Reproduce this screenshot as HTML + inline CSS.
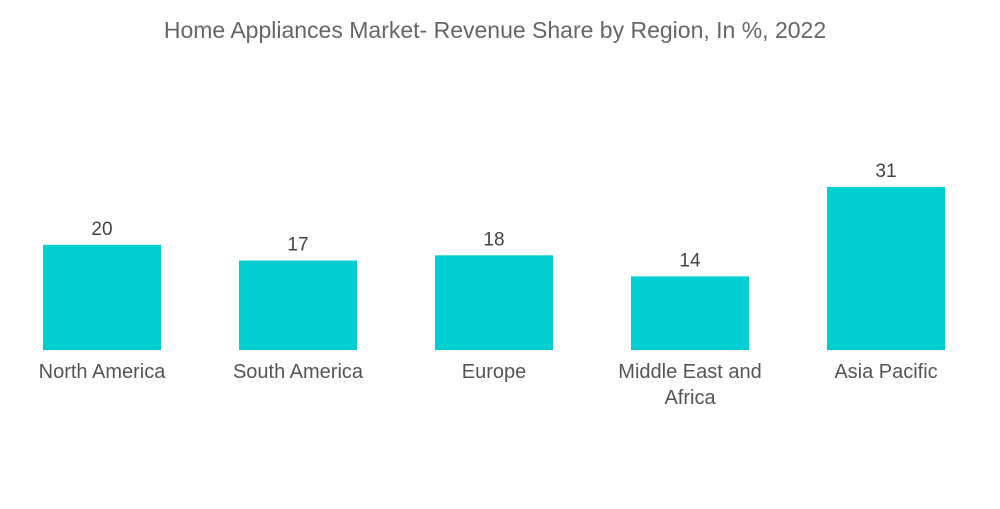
<!DOCTYPE html>
<html><head><meta charset="utf-8"><style>
body{margin:0;background:#fff;width:1000px;height:504px;overflow:hidden;font-family:"Liberation Sans",sans-serif;}
</style></head><body>
<svg width="1000" height="504">
<text x="495" y="38" text-anchor="middle" font-size="23" fill="#666">Home Appliances Market- Revenue Share by Region, In %, 2022</text>
<g id="bars"></g>
</svg>
<script>
const categories=[["North America"],["South America"],["Europe"],["Middle East and","Africa"],["Asia Pacific"]];
const values=[20,17,18,14,31];
const baseY=350, scale=5.26, x0=43, step=196, bw=118;
const g=document.getElementById('bars');
const ns='http://www.w3.org/2000/svg';
function xPos(i){return x0+i*step;}
function yPos(v){return baseY-v*scale;}
values.forEach((v,i)=>{
  const r=document.createElementNS(ns,'rect');
  r.setAttribute('x',xPos(i));r.setAttribute('y',yPos(v));
  r.setAttribute('width',bw);r.setAttribute('height',baseY-yPos(v));
  r.setAttribute('fill','#00ced1');
  
  
  g.appendChild(r);
  const t=document.createElementNS(ns,'text');
  t.setAttribute('x',xPos(i)+bw/2);t.setAttribute('y',yPos(v)-10);
  t.setAttribute('text-anchor','middle');t.setAttribute('font-size','19');t.setAttribute('fill','#444');
  t.textContent=v;
  
  
  g.appendChild(t);
  categories[i].forEach((line,j)=>{
    const c=document.createElementNS(ns,'text');
    c.setAttribute('x',xPos(i)+bw/2);c.setAttribute('y',378+j*26);
    c.setAttribute('text-anchor','middle');c.setAttribute('font-size','20');c.setAttribute('fill','#555');
    c.textContent=line;
    
    
    g.appendChild(c);
  });
});
</script>
</body></html>
